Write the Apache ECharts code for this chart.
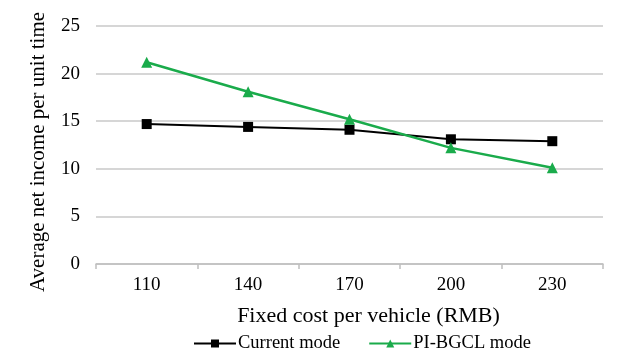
<!DOCTYPE html>
<html>
<head>
<meta charset="utf-8">
<script src="https://cdn.jsdelivr.net/npm/echarts@6/dist/echarts.min.js"></script>
<style>
html,body{margin:0;padding:0;background:#fff;}
#chart{width:623px;height:361px;}
</style>
</head>
<body>
<div id="chart"></div>
<script>
// Fixed cost per vehicle (RMB)
const categories = ['110', '140', '170', '200', '230'];
// Average net income per unit time
const currentMode = [14.7, 14.4, 14.1, 13.1, 12.9];
const pibgclMode = [21.2, 18.1, 15.2, 12.2, 10.1];
const yTicks = { min: 0, max: 25, interval: 5 };

const serif = '"Liberation Serif", "Times New Roman", serif';
const chart = echarts.init(document.getElementById('chart'), null, { renderer: 'canvas' });

chart.setOption({
  animation: false,
  backgroundColor: '#fff',
  grid: { left: 96, right: 20, top: 26, bottom: 97, containLabel: false, outerBoundsMode: 'none' },
  legend: {
    bottom: 3,
    left: 188,
    itemGap: 28,
    itemWidth: 42,
    itemHeight: 10,
    textStyle: { fontFamily: serif, fontSize: 18.5, color: '#000', padding: [0, 0, 0, -3] },
    data: ['Current mode', 'PI-BGCL mode']
  },
  xAxis: {
    type: 'category',
    data: categories,
    boundaryGap: true,
    name: 'Fixed cost per vehicle (RMB)',
    nameLocation: 'middle',
    nameGap: 41,
    nameTextStyle: { fontFamily: serif, fontSize: 22, color: '#000', padding: [0, 0, 0, 38] },
    axisLine: { lineStyle: { color: '#bfbfbf', width: 1.5 } },
    axisTick: { show: true, length: 5, lineStyle: { color: '#bfbfbf', width: 1.5 } },
    axisLabel: { fontFamily: serif, fontSize: 19, color: '#000', margin: 12 }
  },
  yAxis: {
    type: 'value',
    min: yTicks.min,
    max: yTicks.max,
    interval: yTicks.interval,
    name: 'Average net income per unit time',
    nameLocation: 'middle',
    nameGap: 47,
    nameTextStyle: { fontFamily: serif, fontSize: 21, color: '#000', padding: [0, 14, 0, 0] },
    axisLine: { show: false },
    axisTick: { show: false },
    axisLabel: { fontFamily: serif, fontSize: 19, color: '#000', margin: 16 },
    splitLine: { lineStyle: { color: '#c8c8c8', width: 1.5 } }
  },
  series: [
    {
      name: 'Current mode',
      type: 'line',
      data: currentMode,
      symbol: 'rect',
      symbolSize: 10,
      lineStyle: { color: '#000', width: 2 },
      itemStyle: { color: '#000' }
    },
    {
      name: 'PI-BGCL mode',
      type: 'line',
      data: pibgclMode,
      symbol: 'triangle',
      symbolSize: 11,
      lineStyle: { color: '#1aab4b', width: 2.5 },
      itemStyle: { color: '#1aab4b' }
    }
  ]
});
</script>
</body>
</html>
